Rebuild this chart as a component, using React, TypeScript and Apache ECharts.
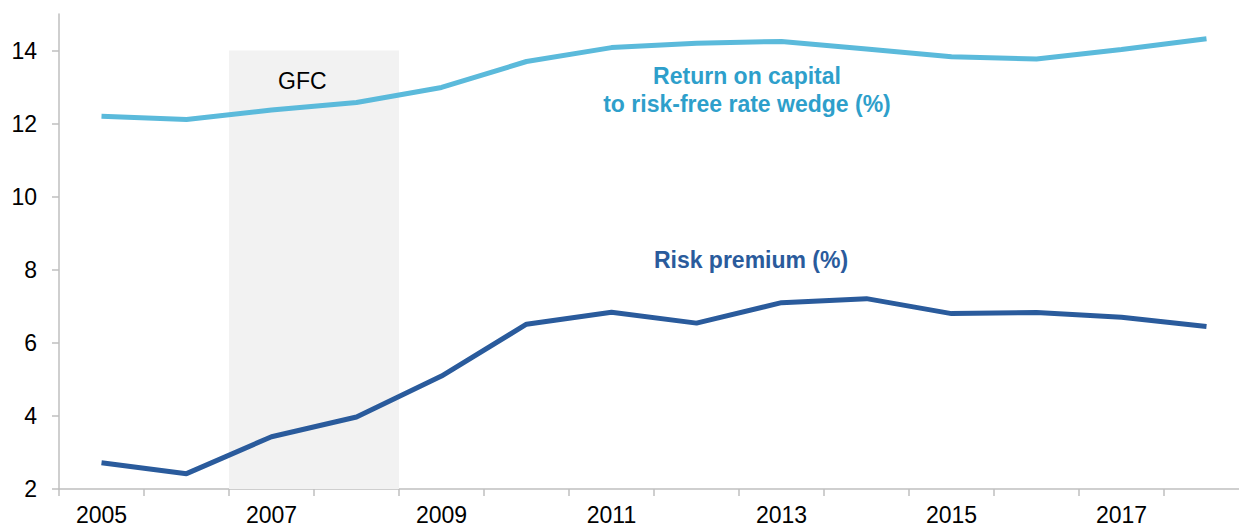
import React, { useEffect, useRef } from "react";
import * as echarts from "echarts";

const years = ["2005","2006","2007","2008","2009","2010","2011","2012","2013","2014","2015","2016","2017","2018"];
const returnWedge = [12.2, 12.11, 12.37, 12.58, 12.99, 13.7, 14.08, 14.2, 14.25, 14.04, 13.83, 13.77, 14.03, 14.32];
const riskPremium = [2.72, 2.42, 3.43, 3.97, 5.09, 6.51, 6.84, 6.54, 7.1, 7.21, 6.8, 6.83, 6.7, 6.45];
const gfcBand = [null, null, 14, 14, null, null, null, null, null, null, null, null, null, null];
const yTicks = [2, 4, 6, 8, 10, 12, 14];

const FONT = "'Liberation Sans', Arial, sans-serif";
const LIGHT = "#5bbadb";
const DARK = "#2a5b9c";

export default function App() {
  const ref = useRef<HTMLDivElement>(null);
  useEffect(() => {
    if (!ref.current) return;
    const chart = echarts.init(ref.current, undefined, { renderer: "svg" });
    chart.setOption({
      animation: false,
      backgroundColor: "#ffffff",
      grid: { left: 59, right: 0, top: 14, bottom: 36, containLabel: false },
      xAxis: {
        type: "category",
        data: years,
        boundaryGap: true,
        axisLine: { lineStyle: { color: "#bfbfbf", width: 1.5 } },
        axisTick: { show: true, interval: 0, length: 7, lineStyle: { color: "#bfbfbf", width: 1.5 } },
        axisLabel: { interval: 1, color: "#000", fontSize: 23, fontFamily: FONT, margin: 14 },
        splitLine: { show: false },
      },
      yAxis: {
        type: "value",
        min: 2,
        max: 15,
        interval: 2,
        axisLine: { show: true, lineStyle: { color: "#bfbfbf", width: 1.5 } },
        axisTick: { show: true, length: 7, customValues: yTicks, lineStyle: { color: "#bfbfbf", width: 1.5 } },
        axisLabel: { color: "#000", fontSize: 23, fontFamily: FONT, margin: 22, customValues: yTicks },
        splitLine: { show: false },
      },
      series: [
        {
          type: "bar",
          data: gfcBand,
          barCategoryGap: "0%",
          itemStyle: { color: "#f2f2f2" },
          silent: true,
          z: 1,
        },
        {
          type: "line",
          data: returnWedge,
          showSymbol: false,
          symbol: "none",
          lineStyle: { color: LIGHT, width: 5 },
          z: 3,
        },
        {
          type: "line",
          data: riskPremium,
          showSymbol: false,
          symbol: "none",
          lineStyle: { color: DARK, width: 5 },
          z: 3,
        },
      ],
      graphic: [
        {
          type: "text",
          x: 278,
          y: 81,
          style: { text: "GFC", fill: "#000", font: `23px ${FONT}`, verticalAlign: "middle" },
          z: 10,
        },
        {
          type: "text",
          x: 747,
          y: 90,
          style: {
            text: "Return on capital\nto risk-free rate wedge (%)",
            fill: "#2e9fcb",
            font: `bold 23px ${FONT}`,
            align: "center",
            verticalAlign: "middle",
            lineHeight: 28,
          },
          z: 10,
        },
        {
          type: "text",
          x: 751,
          y: 260,
          style: {
            text: "Risk premium (%)",
            fill: DARK,
            font: `bold 23px ${FONT}`,
            align: "center",
            verticalAlign: "middle",
          },
          z: 10,
        },
      ],
    });
    return () => chart.dispose();
  }, []);
  return (
    <div
      ref={ref}
      style={{ position: "fixed", left: 0, top: 0, width: 1249, height: 526, background: "#fff" }}
    />
  );
}
